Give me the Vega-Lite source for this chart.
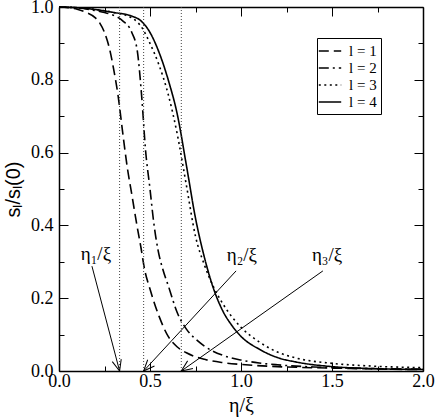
{
  "$schema": "https://vega.github.io/schema/vega-lite/v6.json",
  "width": 364,
  "height": 364,
  "autosize": {"type": "none"},
  "padding": {"left": 59, "top": 7, "right": 13, "bottom": 47},
  "background": "white",
  "config": {
    "view": {"stroke": null},
    "axis": {"domainColor": "black", "tickColor": "black", "labelColor": "black", "titleColor": "black", "grid": false, "domainWidth": 1.5, "tickWidth": 1}
  },
  "datasets": {
    "curves": [
      {"l": "l = 1", "x": 0, "y": 1.0},
      {"l": "l = 1", "x": 0.05, "y": 0.998},
      {"l": "l = 1", "x": 0.1, "y": 0.994},
      {"l": "l = 1", "x": 0.15, "y": 0.985},
      {"l": "l = 1", "x": 0.2, "y": 0.97},
      {"l": "l = 1", "x": 0.225, "y": 0.955},
      {"l": "l = 1", "x": 0.25, "y": 0.93},
      {"l": "l = 1", "x": 0.28, "y": 0.88},
      {"l": "l = 1", "x": 0.3, "y": 0.83},
      {"l": "l = 1", "x": 0.325, "y": 0.755},
      {"l": "l = 1", "x": 0.35, "y": 0.655},
      {"l": "l = 1", "x": 0.375, "y": 0.56},
      {"l": "l = 1", "x": 0.4, "y": 0.485},
      {"l": "l = 1", "x": 0.43, "y": 0.395},
      {"l": "l = 1", "x": 0.45, "y": 0.34},
      {"l": "l = 1", "x": 0.47, "y": 0.28},
      {"l": "l = 1", "x": 0.5, "y": 0.225},
      {"l": "l = 1", "x": 0.55, "y": 0.15},
      {"l": "l = 1", "x": 0.6, "y": 0.095},
      {"l": "l = 1", "x": 0.65, "y": 0.066},
      {"l": "l = 1", "x": 0.7, "y": 0.05},
      {"l": "l = 1", "x": 0.8, "y": 0.032},
      {"l": "l = 1", "x": 0.9, "y": 0.023},
      {"l": "l = 1", "x": 1.0, "y": 0.018},
      {"l": "l = 1", "x": 1.2, "y": 0.012},
      {"l": "l = 1", "x": 1.4, "y": 0.009},
      {"l": "l = 1", "x": 1.6, "y": 0.007},
      {"l": "l = 1", "x": 1.8, "y": 0.005},
      {"l": "l = 1", "x": 2.0, "y": 0.004},
      {"l": "l = 2", "x": 0, "y": 1.0},
      {"l": "l = 2", "x": 0.1, "y": 0.998},
      {"l": "l = 2", "x": 0.2, "y": 0.99},
      {"l": "l = 2", "x": 0.25, "y": 0.985},
      {"l": "l = 2", "x": 0.3, "y": 0.977},
      {"l": "l = 2", "x": 0.35, "y": 0.962},
      {"l": "l = 2", "x": 0.4, "y": 0.93},
      {"l": "l = 2", "x": 0.43, "y": 0.88},
      {"l": "l = 2", "x": 0.455, "y": 0.75},
      {"l": "l = 2", "x": 0.475, "y": 0.61},
      {"l": "l = 2", "x": 0.5, "y": 0.5},
      {"l": "l = 2", "x": 0.52, "y": 0.41},
      {"l": "l = 2", "x": 0.545, "y": 0.33},
      {"l": "l = 2", "x": 0.57, "y": 0.28},
      {"l": "l = 2", "x": 0.6, "y": 0.235},
      {"l": "l = 2", "x": 0.65, "y": 0.16},
      {"l": "l = 2", "x": 0.7, "y": 0.115},
      {"l": "l = 2", "x": 0.75, "y": 0.088},
      {"l": "l = 2", "x": 0.8, "y": 0.068},
      {"l": "l = 2", "x": 0.9, "y": 0.043},
      {"l": "l = 2", "x": 1.0, "y": 0.03},
      {"l": "l = 2", "x": 1.1, "y": 0.022},
      {"l": "l = 2", "x": 1.2, "y": 0.017},
      {"l": "l = 2", "x": 1.4, "y": 0.011},
      {"l": "l = 2", "x": 1.6, "y": 0.008},
      {"l": "l = 2", "x": 1.8, "y": 0.006},
      {"l": "l = 2", "x": 2.0, "y": 0.005},
      {"l": "l = 3", "x": 0, "y": 1.0},
      {"l": "l = 3", "x": 0.1, "y": 0.998},
      {"l": "l = 3", "x": 0.2, "y": 0.993},
      {"l": "l = 3", "x": 0.3, "y": 0.985},
      {"l": "l = 3", "x": 0.4, "y": 0.97},
      {"l": "l = 3", "x": 0.46, "y": 0.94},
      {"l": "l = 3", "x": 0.5, "y": 0.9},
      {"l": "l = 3", "x": 0.55, "y": 0.84},
      {"l": "l = 3", "x": 0.6, "y": 0.76},
      {"l": "l = 3", "x": 0.65, "y": 0.65},
      {"l": "l = 3", "x": 0.7, "y": 0.51},
      {"l": "l = 3", "x": 0.75, "y": 0.37},
      {"l": "l = 3", "x": 0.8, "y": 0.29},
      {"l": "l = 3", "x": 0.85, "y": 0.23},
      {"l": "l = 3", "x": 0.9, "y": 0.185},
      {"l": "l = 3", "x": 1.0, "y": 0.12},
      {"l": "l = 3", "x": 1.1, "y": 0.08},
      {"l": "l = 3", "x": 1.2, "y": 0.052},
      {"l": "l = 3", "x": 1.3, "y": 0.036},
      {"l": "l = 3", "x": 1.5, "y": 0.021},
      {"l": "l = 3", "x": 1.7, "y": 0.014},
      {"l": "l = 3", "x": 2.0, "y": 0.009},
      {"l": "l = 4", "x": 0, "y": 1.0},
      {"l": "l = 4", "x": 0.1, "y": 0.998},
      {"l": "l = 4", "x": 0.2, "y": 0.993},
      {"l": "l = 4", "x": 0.3, "y": 0.985},
      {"l": "l = 4", "x": 0.4, "y": 0.975},
      {"l": "l = 4", "x": 0.45, "y": 0.962},
      {"l": "l = 4", "x": 0.5, "y": 0.93},
      {"l": "l = 4", "x": 0.55, "y": 0.875},
      {"l": "l = 4", "x": 0.6, "y": 0.8},
      {"l": "l = 4", "x": 0.65, "y": 0.705},
      {"l": "l = 4", "x": 0.7, "y": 0.565},
      {"l": "l = 4", "x": 0.75, "y": 0.42},
      {"l": "l = 4", "x": 0.8, "y": 0.31},
      {"l": "l = 4", "x": 0.85, "y": 0.225},
      {"l": "l = 4", "x": 0.9, "y": 0.165},
      {"l": "l = 4", "x": 0.95, "y": 0.125},
      {"l": "l = 4", "x": 1.0, "y": 0.095},
      {"l": "l = 4", "x": 1.1, "y": 0.06},
      {"l": "l = 4", "x": 1.2, "y": 0.037},
      {"l": "l = 4", "x": 1.3, "y": 0.025},
      {"l": "l = 4", "x": 1.5, "y": 0.012},
      {"l": "l = 4", "x": 1.7, "y": 0.007},
      {"l": "l = 4", "x": 2.0, "y": 0.004}
    ],
    "marks": [{"x": 0.333}, {"x": 0.465}, {"x": 0.672}],
    "arrows": [
      {"id": 1, "x": 0.181, "y": 0.288, "x2": 0.333, "y2": 0},
      {"id": 2, "x": 0.973, "y": 0.275, "x2": 0.465, "y2": 0},
      {"id": 3, "x": 1.45, "y": 0.275, "x2": 0.672, "y2": 0}
    ],
    "labels": [
      {"x": 0.203, "y": 0.305, "text": "η₁/ξ"},
      {"x": 1.005, "y": 0.302, "text": "η₂/ξ"},
      {"x": 1.473, "y": 0.302, "text": "η₃/ξ"}
    ]
  },
  "layer": [
    {
      "data": {"name": "curves"},
      "mark": {"type": "line", "strokeWidth": 1.6, "color": "black", "interpolate": "monotone"},
      "encoding": {
        "x": {
          "field": "x", "type": "quantitative",
          "scale": {"domain": [0, 2], "nice": false, "zero": false},
          "axis": {
            "orient": "bottom", "title": "η/ξ",
            "values": [0, 0.25, 0.5, 0.75, 1, 1.25, 1.5, 1.75, 2],
            "labelExpr": "round(datum.value*4) % 2 == 0 ? format(datum.value, '.1f') : ''",
            "tickSize": {"condition": {"test": "round(datum.value*4) % 2 == 0", "value": -9}, "value": -5},
            "labelPadding": 10, "labelFlush": false, "labelOverlap": false,
            "labelFont": "Liberation Serif", "labelFontSize": 18,
            "titleFont": "Liberation Serif", "titleFontSize": 20, "titleFontWeight": "normal", "titlePadding": 1
          }
        },
        "y": {
          "field": "y", "type": "quantitative",
          "scale": {"domain": [0, 1], "nice": false, "zero": false},
          "axis": {
            "orient": "left", "title": "sₗ/sₗ(0)",
            "values": [0, 0.1, 0.2, 0.3, 0.4, 0.5, 0.6, 0.7, 0.8, 0.9, 1],
            "labelExpr": "round(datum.value*10) % 2 == 0 ? format(datum.value, '.1f') : ''",
            "tickSize": {"condition": {"test": "round(datum.value*10) % 2 == 0", "value": -9}, "value": -5},
            "labelPadding": 15, "labelFlush": false, "labelOverlap": false,
            "labelFont": "Liberation Serif", "labelFontSize": 18,
            "titleFont": "Liberation Sans", "titleFontSize": 20, "titleFontWeight": "normal", "titlePadding": 7
          }
        },
        "strokeDash": {
          "field": "l", "type": "nominal",
          "scale": {"domain": ["l = 1", "l = 2", "l = 3", "l = 4"], "range": [[10, 5], [10, 4, 2, 4], [2, 3.5], [1, 0]]},
          "legend": {
            "orient": "none", "legendX": 258, "legendY": 31, "title": null,
            "symbolType": "M-1.4,0L1.4,0", "symbolSize": 256, "symbolStrokeWidth": 1.5, "symbolStrokeColor": "black", "symbolFillColor": "transparent",
            "labelFont": "Liberation Serif", "labelFontSize": 15, "labelColor": "black", "labelOffset": 10,
            "strokeColor": "black", "fillColor": "white", "padding": 4, "rowPadding": 0
          }
        }
      }
    },
    {
      "data": {"name": "marks"},
      "mark": {"type": "rule", "strokeDash": [1, 2], "strokeWidth": 1, "color": "#444444"},
      "encoding": {
        "x": {
          "field": "x", "type": "quantitative",
          "scale": {"domain": [0, 2], "nice": false, "zero": false},
          "axis": {
            "orient": "top", "title": null, "labels": false,
            "values": [0, 0.25, 0.5, 0.75, 1, 1.25, 1.5, 1.75, 2],
            "tickSize": {"condition": {"test": "round(datum.value*4) % 2 == 0", "value": -9}, "value": -5}
          }
        }
      }
    },
    {
      "data": {"name": "arrows"},
      "mark": {"type": "rule", "strokeWidth": 1, "color": "black"},
      "encoding": {
        "x": {"field": "x", "type": "quantitative", "scale": {"domain": [0, 2], "nice": false, "zero": false}, "axis": null},
        "y": {
          "field": "y", "type": "quantitative",
          "scale": {"domain": [0, 1], "nice": false, "zero": false},
          "axis": {
            "orient": "right", "title": null, "labels": false,
            "values": [0, 0.1, 0.2, 0.3, 0.4, 0.5, 0.6, 0.7, 0.8, 0.9, 1],
            "tickSize": {"condition": {"test": "round(datum.value*10) % 2 == 0", "value": -9}, "value": -5}
          }
        },
        "x2": {"field": "x2"},
        "y2": {"field": "y2"}
      }
    },
    {
      "data": {"name": "arrows"},
      "transform": [{"filter": "datum.id == 1"}],
      "mark": {"type": "point", "shape": "M-0.42,1L0,0L0.42,1", "filled": false, "stroke": "black", "strokeWidth": 1, "size": 484, "angle": 165, "opacity": 1},
      "encoding": {
        "x": {"field": "x2", "type": "quantitative", "scale": {"domain": [0, 2], "nice": false, "zero": false}, "axis": null},
        "y": {"field": "y2", "type": "quantitative", "scale": {"domain": [0, 1], "nice": false, "zero": false}, "axis": null}
      }
    },
    {
      "data": {"name": "arrows"},
      "transform": [{"filter": "datum.id == 2"}],
      "mark": {"type": "point", "shape": "M-0.42,1L0,0L0.42,1", "filled": false, "stroke": "black", "strokeWidth": 1, "size": 484, "angle": 222.6, "opacity": 1},
      "encoding": {
        "x": {"field": "x2", "type": "quantitative", "scale": {"domain": [0, 2], "nice": false, "zero": false}, "axis": null},
        "y": {"field": "y2", "type": "quantitative", "scale": {"domain": [0, 1], "nice": false, "zero": false}, "axis": null}
      }
    },
    {
      "data": {"name": "arrows"},
      "transform": [{"filter": "datum.id == 3"}],
      "mark": {"type": "point", "shape": "M-0.42,1L0,0L0.42,1", "filled": false, "stroke": "black", "strokeWidth": 1, "size": 484, "angle": 234.7, "opacity": 1},
      "encoding": {
        "x": {"field": "x2", "type": "quantitative", "scale": {"domain": [0, 2], "nice": false, "zero": false}, "axis": null},
        "y": {"field": "y2", "type": "quantitative", "scale": {"domain": [0, 1], "nice": false, "zero": false}, "axis": null}
      }
    },
    {
      "data": {"name": "labels"},
      "mark": {"type": "text", "font": "Liberation Serif", "fontSize": 19, "color": "black", "align": "center", "baseline": "alphabetic"},
      "encoding": {
        "x": {"field": "x", "type": "quantitative", "scale": {"domain": [0, 2], "nice": false, "zero": false}, "axis": null},
        "y": {"field": "y", "type": "quantitative", "scale": {"domain": [0, 1], "nice": false, "zero": false}, "axis": null},
        "text": {"field": "text"}
      }
    }
  ],
  "resolve": {"axis": {"x": "independent", "y": "independent"}}
}
